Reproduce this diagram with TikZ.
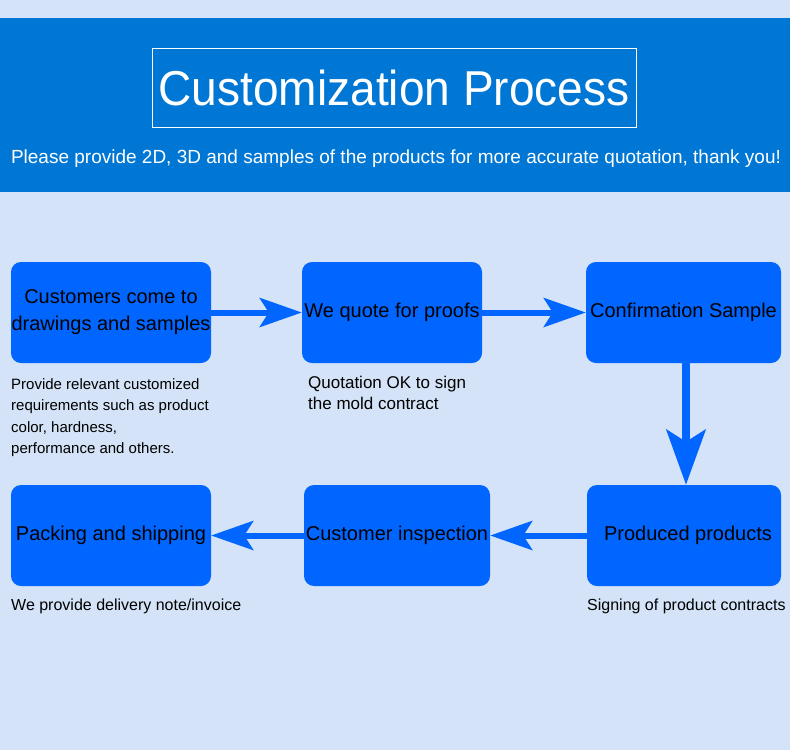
\documentclass[tikz,border=0pt]{standalone}
\usepackage{fontspec}
\setmainfont{Liberation Sans}
\usetikzlibrary{arrows.meta}
\definecolor{pagebg}{RGB}{212,227,247}
\definecolor{bandblue}{RGB}{0,119,212}
\definecolor{stepblue}{RGB}{0,102,255}

\begin{document}
\begin{tikzpicture}[x=1pt, y=-1pt,
  stepbox/.style={fill=stepblue, rounded corners=10pt, minimum height=101pt, inner sep=0pt, text=black, align=center, font=\fontsize{20}{27}\selectfont},
  flow/.style={stepblue, line width=6pt, -{Stealth[length=42pt, width=29pt, inset=9pt]}},
  note/.style={anchor=north west, inner sep=0pt, align=left, text=black, font=\fontsize{15}{21.6}\selectfont}]
\useasboundingbox (0,0) rectangle (790,750);
\fill[pagebg] (0,0) rectangle (790,750);
\fill[bandblue] (0,18) rectangle (790,192);
% title
\node[draw=white, line width=1pt, minimum width=484pt, minimum height=79pt, text=white,
  font=\fontsize{49}{50}\selectfont] (title) at (394,87.5) {\scalebox{0.94}[1]{Customization Process}};
\node[text=white, font=\fontsize{19}{20}\selectfont] (subtitle) at (396,159) {Please provide 2D, 3D and samples of the products for more accurate quotation, thank you!};
% steps
\node[stepbox, minimum width=200pt] (drawings) at (111,312.5) {Customers come to\\drawings and samples};
\node[stepbox, minimum width=180pt] (quote) at (392,312.5) {We quote for proofs};
\node[stepbox, minimum width=195pt] (sample) at (683.5,312.5) {Confirmation Sample};
\node[stepbox, minimum width=194pt] (produce) at (684,535.5) {\hspace*{8pt}Produced products};
\node[stepbox, minimum width=186pt] (inspect) at (397,535.5) {Customer inspection};
\node[stepbox, minimum width=200pt] (packing) at (111,535.5) {Packing and shipping};
% arrows
\draw[flow] (drawings.east) -- (quote.west);
\draw[flow] (quote.east) -- (sample.west);
\draw[flow, line width=8pt, -{Stealth[length=55pt, width=39pt, inset=12pt]}] (sample.south -| 686,0) -- (produce.north -| 686,0);
\draw[flow] (produce.west) -- (inspect.east);
\draw[flow] (inspect.west) -- (packing.east);
% notes
\node[note] (drawnote) at (11,378) {Provide relevant customized\\requirements such as product\\color, hardness,\\performance and others.};
\node[note, font=\fontsize{17}{20.5}\selectfont] (quotenote) at (308,376) {Quotation OK to sign\\the mold contract};
\node[note, font=\fontsize{16}{20}\selectfont] (packnote) at (11,599) {We provide delivery note/invoice};
\node[note, font=\fontsize{16}{20}\selectfont] (prodnote) at (587,599) {Signing of product contracts};
\end{tikzpicture}
\end{document}
